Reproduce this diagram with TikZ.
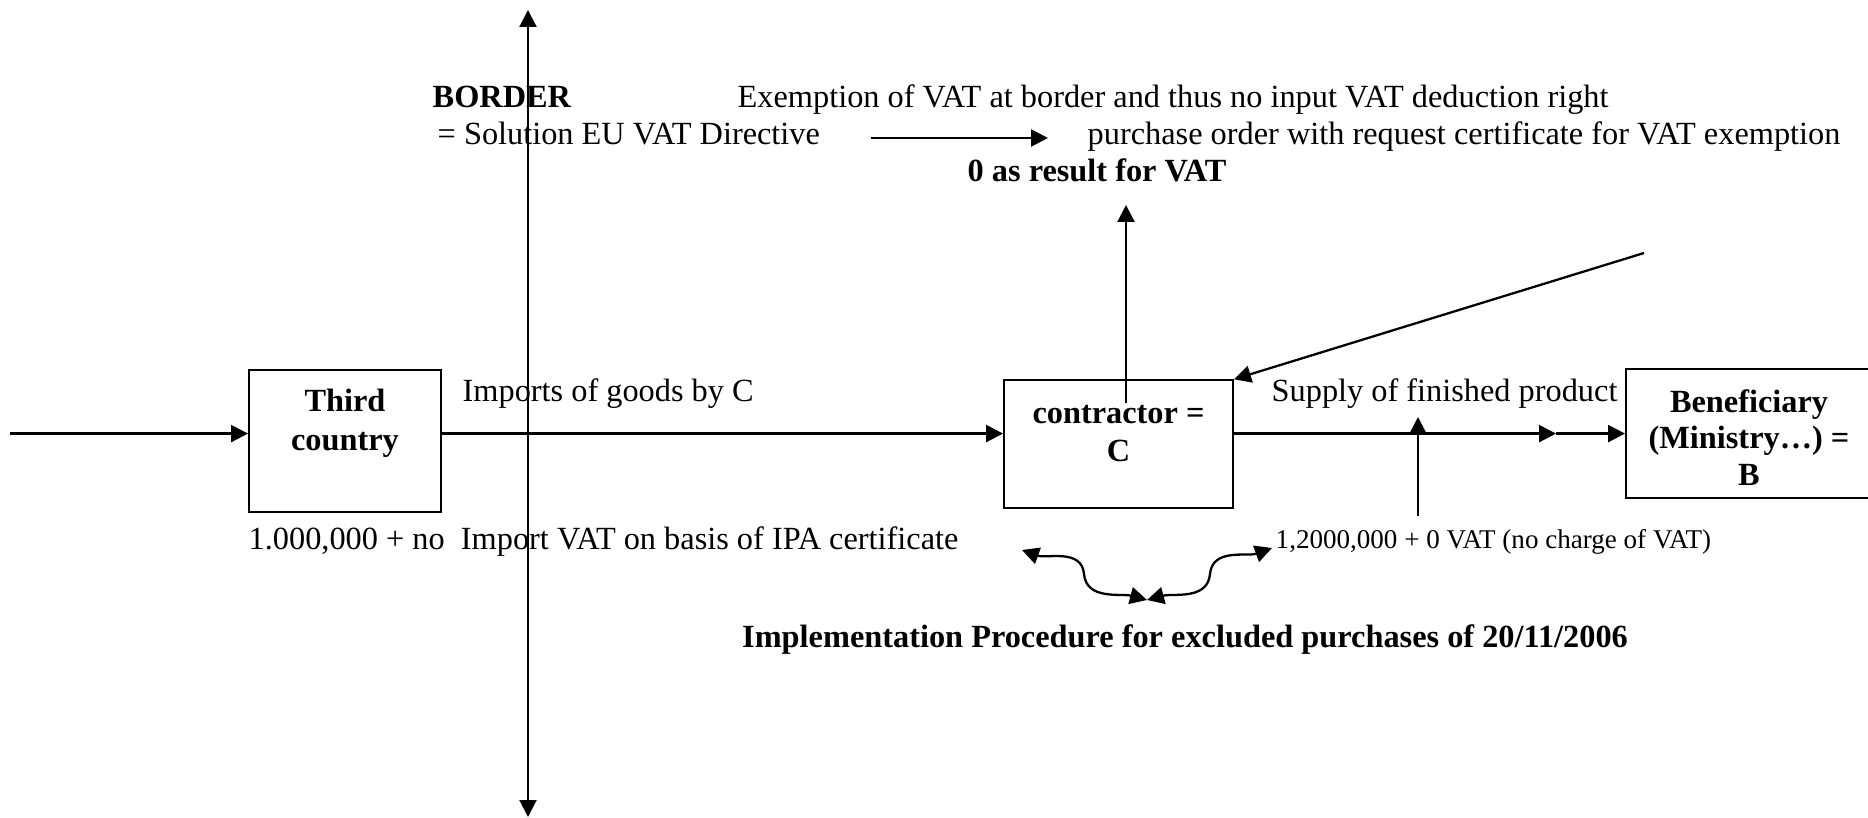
\documentclass[tikz,border=0pt]{standalone}
\usepackage{fontspec}
\setmainfont{Liberation Serif}
\usetikzlibrary{arrows.meta,positioning}

\begin{document}
\begin{tikzpicture}[
    font=\fontsize{9.2}{11}\selectfont,
    >={Triangle[length=0.17cm,width=0.17cm]},
    flow/.style={->, line width=0.65pt},
    box/.style={draw, line width=0.55pt, inner sep=0pt},
    boxtext/.style={font=\fontsize{9.2}{11}\selectfont\bfseries, align=center, inner sep=0pt},
    txt/.style={anchor=base west, inner sep=0pt},
    boldtxt/.style={txt, font=\fontsize{9.2}{11}\selectfont\bfseries},
    smalltxt/.style={txt, font=\fontsize{7.7}{9}\selectfont}
]
\useasboundingbox (0,0) rectangle (18.68,8.17);

% =========================================================================
% 1. BORDER (vertical axis) and texts above
% =========================================================================
\coordinate (bordbot) at (5.28,0);
\coordinate (bordtop) at (5.28,8.07);
\draw[<->, line width=0.6pt] (bordbot) -- (bordtop);

\node[boldtxt] (border) at (4.32,7.095) {BORDER};
\node[txt] (exempt) at (7.37,7.095) {Exemption of VAT at border and thus no input VAT deduction right};
\node[txt] (solution) at (4.37,6.725) {= Solution EU VAT Directive};
\node[txt] (order) at (10.87,6.725) {purchase order with request certificate for VAT exemption};
\node[boldtxt, anchor=base] (result) at (10.97,6.355) {0 as result for VAT};

% short arrow towards the purchase order
\coordinate (ordfrom) at (8.71,6.79);
\coordinate (ordto) at (10.48,6.79);
\draw[flow] (ordfrom) -- (ordto);

% =========================================================================
% 2. MAIN FLOW: third country -> contractor -> beneficiary
% =========================================================================
\coordinate (flowy) at (0.1,3.834);

% Boxes
\node[box, minimum width=1.92cm, minimum height=1.42cm] (third) at (3.45,3.756) {};
\node[boxtext, below=0.19cm of third.north] (thirdtxt) {Third\\country};

\node[box, minimum width=2.29cm, minimum height=1.275cm] (contr) at (11.185,3.73) {};
\node[boxtext, below=0.25cm of contr.north] (contrtxt) {contractor =\\C};

\node[box, minimum width=2.46cm, minimum height=1.29cm] (benef) at (17.49,3.834) {};
\node[boxtext, font=\fontsize{9.2}{10.3}\selectfont\bfseries] (beneftxt) at ([yshift=-0.04cm]benef.center)
    {Beneficiary\\(Ministry…) =\\B};

% Connections
\draw[flow] (flowy) -- (third.west |- flowy);
\draw[flow] (third.east |- flowy) -- (contr.west |- flowy);
\coordinate (midtip) at (15.56,3.834);
\draw[flow] (contr.east |- flowy) -- (midtip);
\draw[flow] (midtip) -- (benef.west);

% Labels along the flow
\node[txt] (imports) at (4.62,4.15) {Imports of goods by C};
\node[txt] (supply) at (12.71,4.15) {Supply of finished product};
\node[txt] (importvat) at (2.48,2.675) {1.000,000 + no\ \ Import VAT on basis of IPA certificate};
\node[smalltxt] (charge) at (12.75,2.68) {1,2000,000 + 0 VAT (no charge of VAT)};

% Vertical arrows
\coordinate (cfoot) at (11.26,4.14);
\coordinate (ctip) at (11.26,6.12);
\draw[flow] (cfoot) -- (ctip);

\coordinate (chfoot) at (14.18,3.01);
\coordinate (chtip) at (14.18,4.0);
\draw[flow] (chfoot) -- (chtip);

% Request coming in from the top right
\coordinate (reqfrom) at (16.44,5.64);
\draw[flow] (reqfrom) -- (contr.north east);

% =========================================================================
% 3. IMPLEMENTATION PROCEDURE
% =========================================================================
\coordinate (procl) at (10.22,2.67);
\coordinate (procm) at (11.47,2.17);
\coordinate (procr) at (12.72,2.69);
\draw[<->, line width=0.65pt] (procl) to[out=-20,in=95] (10.84,2.43) to[out=-85,in=165] (procm);
\draw[<->, line width=0.65pt] (procr) to[out=200,in=85] (12.10,2.43) to[out=-95,in=15] (procm);

\node[boldtxt, anchor=base] (proc) at (11.85,1.69)
    {Implementation Procedure for excluded purchases of 20/11/2006};

\end{tikzpicture}
\end{document}
